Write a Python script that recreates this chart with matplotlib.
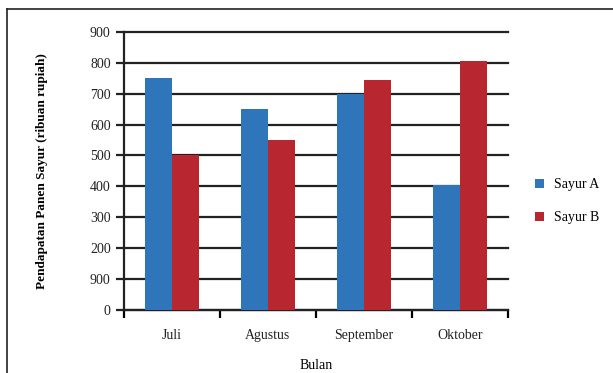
import matplotlib.pyplot as plt
import numpy as np
from matplotlib.lines import Line2D

bulan = ['Juli', 'Agustus', 'September', 'Oktober']
sayur_a = [750, 650, 700, 405]
sayur_b = [500, 550, 745, 805]
y_ticks = [0, 100, 200, 300, 400, 500, 600, 700, 800, 900]
y_labels = ['0', '900', '200', '300', '400', '500', '600', '700', '800', '900']

plt.rcParams['font.family'] = ['Liberation Serif', 'DejaVu Serif']

fig = plt.figure(figsize=(6.13, 3.73), dpi=100)
ax = fig.add_axes([0.202, 0.170, 0.627, 0.744])

x = np.arange(len(bulan))
w = 0.28
ax.bar(x - w / 2, sayur_a, w, color='#2e75b9', label='Sayur A', zorder=3)
ax.bar(x + w / 2, sayur_b, w, color='#b82630', label='Sayur B', zorder=3)

ax.set_xlim(-0.5, len(bulan) - 0.5)
ax.set_ylim(0, 900)
ax.set_yticks(y_ticks)
ax.set_yticklabels(y_labels)
ax.set_xticks(x)
ax.set_xticklabels(bulan)
ax.set_xticks(np.arange(len(bulan) + 1) - 0.5, minor=True)
ax.tick_params(axis='x', which='major', length=0, pad=14, labelsize=10)
ax.tick_params(axis='x', which='minor', length=6, width=1.6, direction='out')
ax.tick_params(axis='y', length=6, width=1.6, labelsize=10, colors='#222222')
ax.tick_params(axis='x', labelcolor='#222222')

ax.grid(axis='y', color='#222222', linewidth=1.6, zorder=1)
for gl in ax.get_ygridlines():
    gl.set_clip_on(False)
for s in ['top', 'right']:
    ax.spines[s].set_visible(False)
for s in ['left', 'bottom']:
    ax.spines[s].set_linewidth(1.6)
    ax.spines[s].set_color('#222222')

ax.set_xlabel('Bulan', fontsize=10, labelpad=12)
ax.set_ylabel('Pendapatan Panen Sayur (ribuan rupiah)', fontsize=9.5,
              fontweight='bold', labelpad=30)

ax.legend(loc='center left', bbox_to_anchor=(1.055, 0.39), frameon=False,
          fontsize=10, handlelength=0.65, handleheight=0.65, labelspacing=1.45,
          handletextpad=0.7, borderaxespad=0)

# frame lines of the original picture (top and left only)
fig.add_artist(Line2D([7 / 613, 1], [1 - 9 / 373, 1 - 9 / 373], color='#222222', lw=1.2))
fig.add_artist(Line2D([7 / 613, 7 / 613], [0, 1 - 9 / 373], color='#222222', lw=1.2))

fig.savefig('out.png', dpi=100)
